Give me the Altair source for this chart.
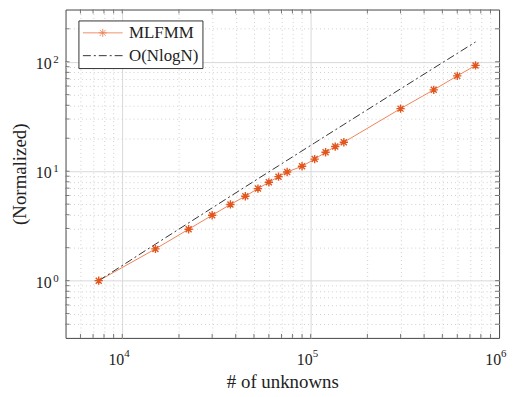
import altair as alt
import pandas as pd

# Data
unknowns = [7500, 15000, 22500, 30000, 37500, 45000, 52500, 60000, 67500, 75000,
            90000, 105000, 120000, 135000, 150000, 300000, 450000, 600000, 750000]
mlfmm = [1.0, 1.95, 2.95, 3.96, 4.97, 5.91, 6.94, 7.92, 8.92, 9.84,
         11.1, 12.9, 14.9, 16.8, 18.4, 37.3, 55.4, 74.3, 92.6]
nlogn = [1.0, 2.155, 3.369, 4.621, 5.902, 7.205, 8.527, 9.864, 11.216, 12.58,
         15.342, 18.141, 20.972, 23.831, 26.715, 56.537, 87.532, 119.29, 151.61]
series_names = ["MLFMM", "O(NlogN)"]

# grid / tick positions (interior only, edges are drawn by the frame)
x_grid = [6000, 7000, 8000, 9000, 10000,
          20000, 30000, 40000, 50000, 60000, 70000, 80000, 90000, 100000,
          200000, 300000, 400000, 500000, 600000, 700000, 800000, 900000]
y_grid = [0.4, 0.5, 0.6, 0.7, 0.8, 0.9, 1,
          2, 3, 4, 5, 6, 7, 8, 9, 10,
          20, 30, 40, 50, 60, 70, 80, 90, 100, 200]

# tick labels: 10^k
x_major = [10000, 100000, 1000000]
x_exp = ["4", "5", "6"]
y_major = [1, 10, 100]
y_exp = ["0", "1", "2"]

df = pd.DataFrame({
    "N": unknowns * 2,
    "T": mlfmm + nlogn,
    "series": [series_names[0]] * len(unknowns) + [series_names[1]] * len(unknowns),
})
xlab = pd.DataFrame({"v": x_major, "base": ["10"] * 3, "exp": x_exp})
ylab = pd.DataFrame({"v": y_major, "base": ["10"] * 3, "exp": y_exp})
xt = pd.DataFrame({"v": x_grid})
yt = pd.DataFrame({"v": y_grid})

FONT = "'Liberation Serif', 'Times New Roman', 'DejaVu Serif', serif"
ORANGE_LINE = "#EF8458"
ORANGE_MARK = "#E2561E"
DARK = "#333333"
TXT = "#222222"
FRAME = "#555555"
W, H = 437, 331
TK = 4

asterisk = ("M-0.9,-0.9L0.9,0.9M-0.9,0.9L0.9,-0.9M0,-1.25L0,1.25M-1.25,0L1.25,0")
legend_mlfmm = ("M-2.5,0L2.5,0M-0.37,-0.37L0.37,0.37M-0.37,0.37L0.37,-0.37"
                "M0,-0.5L0,0.5M-0.5,0L0.5,0")
legend_nlogn = "M-2.5,0L2.5,0"

x_scale = alt.Scale(type="log", domain=[5000, 1000000], nice=False)
y_scale = alt.Scale(type="log", domain=[0.3, 300], nice=False)

major_test = "indexof([1, 10, 100, 10000, 100000, 1000000], datum.value) >= 0"
grid_dash = {"condition": {"test": major_test, "value": []}, "value": [1, 3]}
grid_color = {"condition": {"test": major_test, "value": "#d9d9d9"}, "value": "#cfcfcf"}

x_axis = alt.Axis(
    title="# of unknowns", values=x_grid, grid=True, gridDash=grid_dash, gridColor=grid_color,
    ticks=False, domain=False, labels=False, titlePadding=35,
)
y_axis = alt.Axis(
    title="(Normalized)", values=y_grid, grid=True, gridDash=grid_dash, gridColor=grid_color,
    ticks=False, domain=False, labels=False, titlePadding=36,
)

base = alt.Chart(df)

# invisible layer that carries the axes and the legend
legend_layer = base.mark_point(opacity=0, filled=False, size=256).encode(
    x=alt.X("N:Q", scale=x_scale, axis=x_axis),
    y=alt.Y("T:Q", scale=y_scale, axis=y_axis),
    color=alt.Color("series:N", scale=alt.Scale(domain=series_names, range=[ORANGE_LINE, DARK]),
                    legend=alt.Legend(title=None, orient="none", legendX=13, legendY=11,
                                      symbolOpacity=1, symbolSize=256, symbolStrokeWidth=1,
                                      symbolOffset=12,
                                      labelFont=FONT, labelFontSize=17, labelColor=TXT,
                                      labelOffset=18, padding=4, rowPadding=5,
                                      strokeColor="#333", fillColor="white", cornerRadius=0)),
    shape=alt.Shape("series:N", scale=alt.Scale(domain=series_names, range=[legend_mlfmm, legend_nlogn])),
    strokeDash=alt.StrokeDash("series:N", scale=alt.Scale(domain=series_names, range=[[1, 0], [8, 3, 2, 3]])),
)

line_ml = base.transform_filter(alt.datum.series == "MLFMM").mark_line(
    color=ORANGE_LINE, strokeWidth=1).encode(x=alt.X("N:Q", scale=x_scale), y=alt.Y("T:Q", scale=y_scale))
line_nl = base.transform_filter(alt.datum.series == "O(NlogN)").mark_line(
    color=DARK, strokeWidth=1, strokeDash=[8, 3, 2, 3]).encode(
    x=alt.X("N:Q", scale=x_scale), y=alt.Y("T:Q", scale=y_scale))
points = base.transform_filter(alt.datum.series == "MLFMM").mark_point(
    shape=asterisk, filled=False, size=45, color=ORANGE_MARK, strokeWidth=1.4, opacity=1).encode(
    x=alt.X("N:Q", scale=x_scale), y=alt.Y("T:Q", scale=y_scale))

# inward ticks on all four sides (MATLAB box style)
tick_b = alt.Chart(xt).mark_rule(color=FRAME, strokeWidth=0.8).encode(
    x=alt.X("v:Q", scale=x_scale), y=alt.value(H), y2=alt.value(H - TK))
tick_t = alt.Chart(xt).mark_rule(color=FRAME, strokeWidth=0.8).encode(
    x=alt.X("v:Q", scale=x_scale), y=alt.value(0), y2=alt.value(TK))
tick_l = alt.Chart(yt).mark_rule(color=FRAME, strokeWidth=0.8).encode(
    y=alt.Y("v:Q", scale=y_scale), x=alt.value(0), x2=alt.value(TK))
tick_r = alt.Chart(yt).mark_rule(color=FRAME, strokeWidth=0.8).encode(
    y=alt.Y("v:Q", scale=y_scale), x=alt.value(W), x2=alt.value(W - TK))

# tick labels as text: "10" plus a raised exponent
xl_base = alt.Chart(xlab).mark_text(font=FONT, fontSize=16, color=TXT, align="right",
                                    baseline="alphabetic", dx=2).encode(
    x=alt.X("v:Q", scale=x_scale), y=alt.value(H + 27), text="base:N")
xl_exp = alt.Chart(xlab).mark_text(font=FONT, fontSize=11, color=TXT, align="left",
                                   baseline="alphabetic", dx=2).encode(
    x=alt.X("v:Q", scale=x_scale), y=alt.value(H + 19), text="exp:N")
yl_base = alt.Chart(ylab).mark_text(font=FONT, fontSize=16, color=TXT, align="right",
                                    baseline="alphabetic", dy=7).encode(
    y=alt.Y("v:Q", scale=y_scale), x=alt.value(-14), text="base:N")
yl_exp = alt.Chart(ylab).mark_text(font=FONT, fontSize=11, color=TXT, align="right",
                                   baseline="alphabetic", dy=1).encode(
    y=alt.Y("v:Q", scale=y_scale), x=alt.value(-7), text="exp:N")

chart = alt.layer(legend_layer, tick_b, tick_t, tick_l, tick_r, line_ml, line_nl, points,
                  xl_base, xl_exp, yl_base, yl_exp).properties(
    width=W, height=H,
    padding={"left": 58, "top": 0, "right": 10, "bottom": 55},
    autosize="none",
).configure(background="white", font=FONT).configure_view(
    stroke="#444", strokeWidth=1
).configure_axis(
    titleFont=FONT, titleFontSize=19, titleFontWeight="normal", titleColor=TXT,
)

chart.save("out.html", embed_options={"renderer": "svg", "actions": False})
